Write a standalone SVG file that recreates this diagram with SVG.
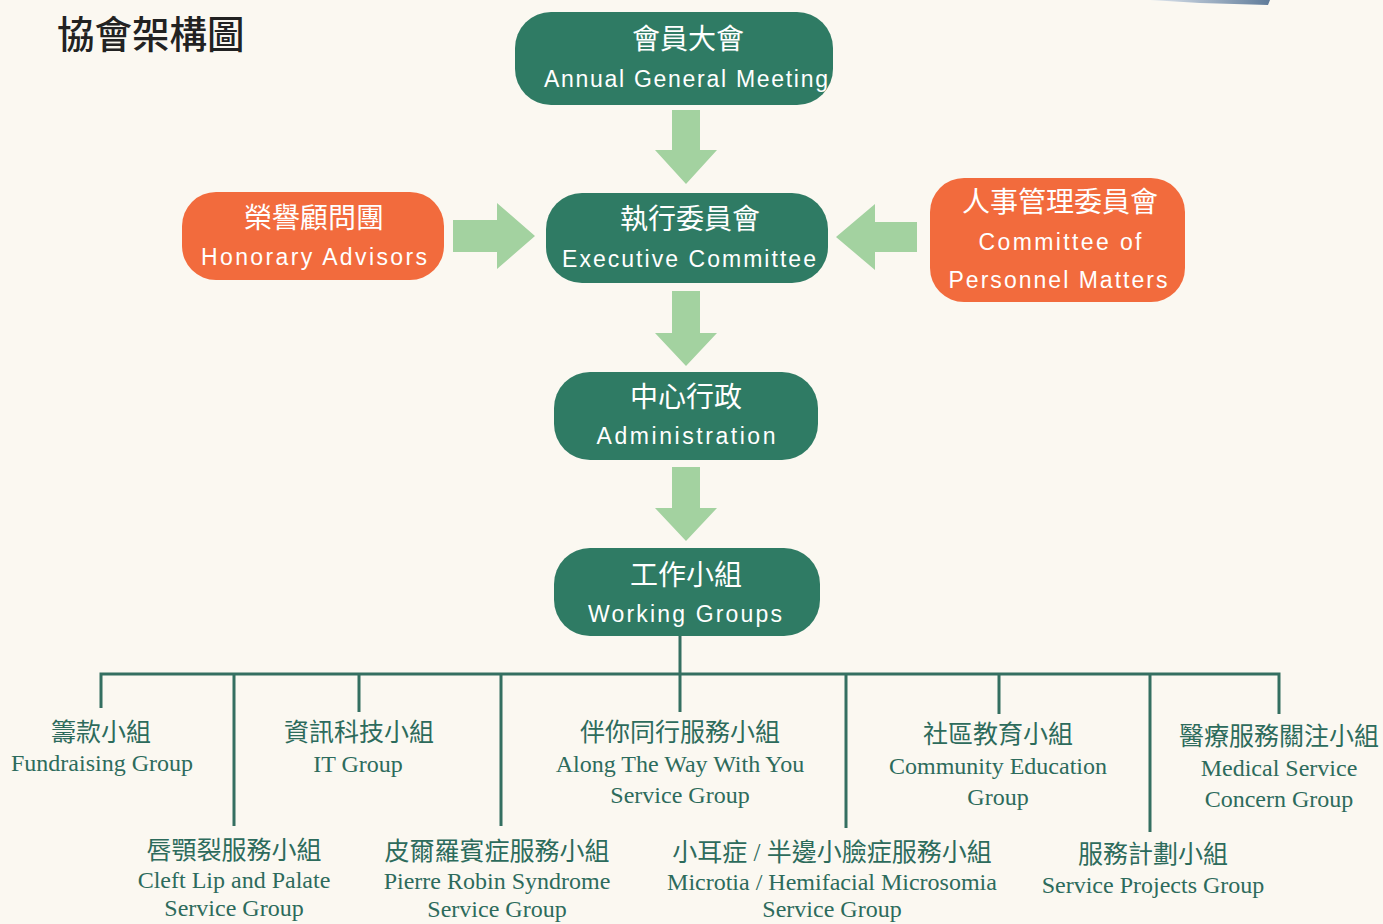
<svg xmlns="http://www.w3.org/2000/svg" width="1383" height="924" viewBox="0 0 1383 924">
<defs>
<style>
.bg{fill:#fbf8f1}
.gn{fill:#2f7b64}
.or{fill:#f26b3d}
.ar{fill:#a3d2a0}
.ln{stroke:#346f61;stroke-width:3;fill:none}
.zh{font-family:"Noto Sans CJK TC","Noto Sans CJK SC",sans-serif;font-size:28px;fill:#fff;text-anchor:middle}
.en{font-family:"Liberation Sans","DejaVu Sans",sans-serif;font-size:23px;fill:#fff;text-anchor:middle}
.bz{font-family:"Liberation Serif","Noto Sans CJK TC",serif;font-size:25px;fill:#2d6b5c;text-anchor:middle}
.be{font-family:"Liberation Serif",serif;font-size:24px;fill:#2d6b5c;text-anchor:middle}
</style>
<linearGradient id="bl" x1="0" y1="0" x2="1" y2="0">
<stop offset="0" stop-color="#dfe6ee"/>
<stop offset="1" stop-color="#5f7b99"/>
</linearGradient>
</defs>
<rect class="bg" x="0" y="0" width="1383" height="924"/>
<polygon points="1150,0 1270,0 1268,5 1200,3" fill="url(#bl)"/>
<text x="57" y="48" font-family="Noto Sans CJK TC, Noto Sans CJK SC, sans-serif" font-size="37.5" font-weight="500" fill="#222">協會架構圖</text>

<g id="connectors">
<polygon class="ar" points="672,110 700,110 700,150 717,150 686,184 655,150 672,150"/>
<polygon class="ar" points="672,291 700,291 700,333 717,333 686,366 655,333 672,333"/>
<polygon class="ar" points="672,467 700,467 700,508 717,508 686,541 655,508 672,508"/>
<polygon class="ar" points="453,220 497,220 497,203 535,236 497,269 497,252 453,252"/>
<polygon class="ar" points="917,222 875,222 875,204 836,237 875,270 875,252 917,252"/>
<path class="ln" d="M680,636 V712 M100,674 H1280 M101,672.5 V708 M234,672.5 V826 M359,672.5 V712 M501,672.5 V826 M846,672.5 V828 M999,672.5 V714 M1150,672.5 V832 M1279,672.5 V714"/>
</g>

<g id="agm">
<rect class="gn" x="515" y="12" width="318" height="93" rx="36"/>
<text class="zh" x="688" y="49">會員大會</text>
<text class="en" x="686" y="87" textLength="284" lengthAdjust="spacing">Annual General Meeting</text>
</g>
<g id="exec">
<rect class="gn" x="546" y="193" width="282" height="90" rx="36"/>
<text class="zh" x="690" y="229">執行委員會</text>
<text class="en" x="689" y="267" textLength="254" lengthAdjust="spacing">Executive Committee</text>
</g>
<g id="honorary">
<rect class="or" x="182" y="192" width="262" height="88" rx="34"/>
<text class="zh" x="314" y="228">榮譽顧問團</text>
<text class="en" x="314" y="265" textLength="226" lengthAdjust="spacing">Honorary Advisors</text>
</g>
<g id="personnel">
<rect class="or" x="930" y="178" width="255" height="124" rx="34"/>
<text class="zh" x="1060" y="212">人事管理委員會</text>
<text class="en" x="1060" y="250" textLength="163" lengthAdjust="spacing">Committee of</text>
<text class="en" x="1058" y="288" textLength="219" lengthAdjust="spacing">Personnel Matters</text>
</g>
<g id="admin">
<rect class="gn" x="554" y="372" width="264" height="88" rx="36"/>
<text class="zh" x="686" y="407">中心行政</text>
<text class="en" x="686" y="444" textLength="179" lengthAdjust="spacing">Administration</text>
</g>
<g id="working">
<rect class="gn" x="554" y="548" width="266" height="88" rx="36"/>
<text class="zh" x="686" y="585">工作小組</text>
<text class="en" x="685" y="622" textLength="194" lengthAdjust="spacing">Working Groups</text>
</g>

<g id="fundraising">
<text class="bz" x="101" y="741">籌款小組</text>
<text class="be" x="102" y="771">Fundraising Group</text>
</g>
<g id="it">
<text class="bz" x="359" y="741">資訊科技小組</text>
<text class="be" x="358" y="772">IT Group</text>
</g>
<g id="alongway">
<text class="bz" x="680" y="741">伴你同行服務小組</text>
<text class="be" x="680" y="772">Along The Way With You</text>
<text class="be" x="680" y="803">Service Group</text>
</g>
<g id="community">
<text class="bz" x="998" y="743">社區教育小組</text>
<text class="be" x="998" y="774">Community Education</text>
<text class="be" x="998" y="805">Group</text>
</g>
<g id="medical">
<text class="bz" x="1279" y="745">醫療服務關注小組</text>
<text class="be" x="1279" y="776">Medical Service</text>
<text class="be" x="1279" y="807">Concern Group</text>
</g>
<g id="cleft">
<text class="bz" x="234" y="859">唇顎裂服務小組</text>
<text class="be" x="234" y="888">Cleft Lip and Palate</text>
<text class="be" x="234" y="916">Service Group</text>
</g>
<g id="pierre">
<text class="bz" x="497" y="860">皮爾羅賓症服務小組</text>
<text class="be" x="497" y="889">Pierre Robin Syndrome</text>
<text class="be" x="497" y="917">Service Group</text>
</g>
<g id="microtia">
<text class="bz" x="832" y="861">小耳症 / 半邊小臉症服務小組</text>
<text class="be" x="832" y="890">Microtia / Hemifacial Microsomia</text>
<text class="be" x="832" y="917">Service Group</text>
</g>
<g id="projects">
<text class="bz" x="1153" y="863">服務計劃小組</text>
<text class="be" x="1153" y="893">Service Projects Group</text>
</g>
</svg>
